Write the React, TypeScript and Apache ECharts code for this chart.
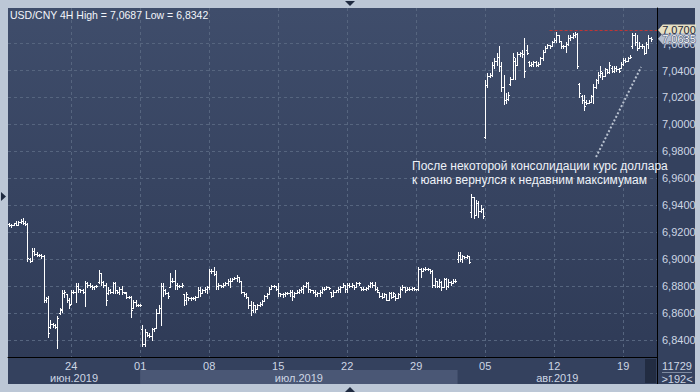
import React, { useEffect, useRef } from 'react';
import * as echarts from 'echarts';

// OHLC bars [open, high, low, close], 4H
const junBars: number[][] = [
  [6.926, 6.9265, 6.9245, 6.925], [6.925, 6.926, 6.924, 6.9255], [6.9255, 6.927, 6.925, 6.9265], [6.9265, 6.928, 6.925, 6.9255],
  [6.9255, 6.928, 6.925, 6.9275], [6.9275, 6.930, 6.9265, 6.928], [6.928, 6.9305, 6.926, 6.927], [6.927, 6.928, 6.925, 6.926],
  [6.926, 6.9265, 6.899, 6.901], [6.900, 6.901, 6.898, 6.899], [6.899, 6.908, 6.899, 6.906], [6.906, 6.908, 6.903, 6.904],
  [6.904, 6.905, 6.902, 6.903], [6.903, 6.904, 6.902, 6.903], [6.903, 6.9035, 6.901, 6.902], [6.902, 6.903, 6.868, 6.870],
  [6.870, 6.872, 6.868, 6.871], [6.871, 6.873, 6.842, 6.845], [6.850, 6.855, 6.849, 6.852], [6.852, 6.853, 6.850, 6.851],
  [6.851, 6.852, 6.849, 6.850], [6.850, 6.858, 6.8342, 6.856], [6.860, 6.864, 6.859, 6.863], [6.862, 6.877, 6.861, 6.875],
  [6.875, 6.877, 6.872, 6.876], [6.874, 6.874, 6.868, 6.870], [6.870, 6.871, 6.864, 6.866], [6.867, 6.877, 6.867, 6.876],
  [6.876, 6.877, 6.875, 6.876], [6.876, 6.8825, 6.868, 6.880], [6.880, 6.882, 6.876, 6.878], [6.878, 6.878, 6.876, 6.877],
  [6.877, 6.8775, 6.875, 6.876], [6.876, 6.884, 6.865, 6.882], [6.882, 6.883, 6.879, 6.881], [6.881, 6.882, 6.879, 6.880],
  [6.880, 6.881, 6.878, 6.879], [6.879, 6.880, 6.878, 6.880], [6.880, 6.881, 6.879, 6.880], [6.883, 6.892, 6.882, 6.890],
  [6.890, 6.890, 6.881, 6.883], [6.883, 6.884, 6.879, 6.881], [6.881, 6.882, 6.866, 6.870], [6.875, 6.879, 6.874, 6.877],
  [6.877, 6.878, 6.875, 6.876], [6.876, 6.883, 6.875, 6.882], [6.882, 6.883, 6.875, 6.877], [6.877, 6.877, 6.875, 6.876],
  [6.876, 6.879, 6.874, 6.878], [6.878, 6.880, 6.874, 6.876], [6.876, 6.876, 6.875, 6.8755], [6.875, 6.876, 6.871, 6.872],
  [6.872, 6.873, 6.871, 6.872], [6.872, 6.873, 6.857, 6.862], [6.864, 6.870, 6.864, 6.868], [6.868, 6.870, 6.865, 6.866],
  [6.866, 6.8665, 6.865, 6.866],
];

const julBars: number[][] = [
  [6.866, 6.8665, 6.8655, 6.866], [6.848, 6.851, 6.8356, 6.837], [6.837, 6.848, 6.8356, 6.846], [6.846, 6.846, 6.843, 6.844],
  [6.844, 6.845, 6.842, 6.843], [6.843, 6.849, 6.840, 6.848], [6.848, 6.849, 6.847, 6.849], [6.849, 6.863, 6.849, 6.860],
  [6.860, 6.866, 6.860, 6.864], [6.864, 6.882, 6.851, 6.880], [6.880, 6.882, 6.873, 6.877], [6.877, 6.878, 6.874, 6.875],
  [6.875, 6.876, 6.871, 6.873], [6.879, 6.890, 6.879, 6.884], [6.884, 6.886, 6.883, 6.884], [6.884, 6.892, 6.878, 6.881],
  [6.881, 6.882, 6.878, 6.880], [6.880, 6.881, 6.879, 6.880], [6.880, 6.882, 6.879, 6.881], [6.874, 6.874, 6.866, 6.870],
  [6.870, 6.876, 6.867, 6.874], [6.872, 6.872, 6.870, 6.871], [6.871, 6.872, 6.870, 6.871], [6.871, 6.872, 6.8705, 6.8715],
  [6.8715, 6.873, 6.870, 6.872], [6.872, 6.879, 6.872, 6.877], [6.877, 6.879, 6.873, 6.875], [6.875, 6.878, 6.875, 6.877],
  [6.877, 6.879, 6.876, 6.878], [6.878, 6.880, 6.875, 6.879], [6.879, 6.8925, 6.878, 6.891], [6.891, 6.8925, 6.890, 6.891],
  [6.891, 6.894, 6.888, 6.889], [6.889, 6.8915, 6.878, 6.880], [6.880, 6.8825, 6.878, 6.881], [6.881, 6.881, 6.879, 6.880],
  [6.880, 6.882, 6.879, 6.881], [6.881, 6.883, 6.881, 6.882], [6.882, 6.885, 6.881, 6.884], [6.884, 6.886, 6.879, 6.884],
  [6.884, 6.886, 6.884, 6.885], [6.885, 6.887, 6.885, 6.886], [6.886, 6.888, 6.884, 6.887], [6.887, 6.887, 6.883, 6.884],
  [6.884, 6.884, 6.875, 6.876], [6.876, 6.876, 6.873, 6.874], [6.874, 6.875, 6.871, 6.872], [6.872, 6.872, 6.864, 6.866],
  [6.866, 6.869, 6.8586, 6.862], [6.862, 6.868, 6.861, 6.866], [6.866, 6.866, 6.861, 6.863], [6.863, 6.867, 6.863, 6.866],
  [6.866, 6.868, 6.865, 6.867], [6.867, 6.8697, 6.866, 6.869], [6.869, 6.8735, 6.869, 6.873], [6.873, 6.875, 6.871, 6.874],
  [6.874, 6.879, 6.874, 6.878], [6.878, 6.881, 6.878, 6.880], [6.880, 6.881, 6.879, 6.880], [6.880, 6.880, 6.877, 6.878],
  [6.878, 6.882, 6.873, 6.875], [6.875, 6.875, 6.873, 6.874], [6.874, 6.875, 6.872, 6.874], [6.874, 6.876, 6.873, 6.875],
  [6.875, 6.876, 6.874, 6.875], [6.875, 6.877, 6.873, 6.876], [6.876, 6.877, 6.870, 6.873], [6.873, 6.876, 6.872, 6.875],
  [6.875, 6.877, 6.875, 6.876], [6.876, 6.878, 6.875, 6.877], [6.877, 6.879, 6.876, 6.878], [6.878, 6.881, 6.875, 6.880],
  [6.880, 6.883, 6.879, 6.882], [6.882, 6.883, 6.876, 6.878], [6.878, 6.878, 6.876, 6.877], [6.877, 6.877, 6.875, 6.876],
  [6.876, 6.877, 6.873, 6.874], [6.874, 6.876, 6.873, 6.875], [6.875, 6.877, 6.873, 6.876], [6.876, 6.879, 6.875, 6.878],
  [6.878, 6.879, 6.877, 6.878], [6.878, 6.880, 6.878, 6.879], [6.879, 6.879, 6.878, 6.8785], [6.876, 6.876, 6.872, 6.873],
  [6.873, 6.877, 6.873, 6.876], [6.876, 6.877, 6.876, 6.877], [6.877, 6.879, 6.876, 6.878], [6.878, 6.880, 6.876, 6.879],
  [6.879, 6.882, 6.879, 6.881], [6.881, 6.881, 6.876, 6.878], [6.878, 6.882, 6.876, 6.881], [6.881, 6.882, 6.879, 6.880],
  [6.880, 6.882, 6.879, 6.881], [6.881, 6.881, 6.878, 6.879], [6.879, 6.883, 6.879, 6.882], [6.882, 6.883, 6.881, 6.882],
  [6.879, 6.879, 6.877, 6.878], [6.878, 6.879, 6.877, 6.878], [6.878, 6.879, 6.877, 6.8785], [6.8785, 6.881, 6.878, 6.880],
  [6.880, 6.883, 6.879, 6.882], [6.882, 6.883, 6.879, 6.881], [6.881, 6.883, 6.877, 6.878], [6.878, 6.879, 6.876, 6.877],
  [6.876, 6.876, 6.872, 6.873], [6.873, 6.875, 6.871, 6.872], [6.872, 6.875, 6.872, 6.874], [6.874, 6.874, 6.8697, 6.870],
  [6.870, 6.876, 6.870, 6.875], [6.875, 6.876, 6.871, 6.872], [6.872, 6.876, 6.872, 6.875], [6.873, 6.874, 6.8697, 6.871],
  [6.871, 6.875, 6.871, 6.874], [6.874, 6.879, 6.872, 6.878], [6.878, 6.881, 6.877, 6.879], [6.879, 6.879, 6.876, 6.877],
  [6.877, 6.879, 6.877, 6.878], [6.878, 6.879, 6.877, 6.878], [6.878, 6.879, 6.877, 6.8785], [6.8785, 6.879, 6.877, 6.878],
  [6.878, 6.878, 6.877, 6.8775], [6.878, 6.8942, 6.877, 6.893], [6.893, 6.8935, 6.887, 6.891], [6.891, 6.8935, 6.891, 6.893],
  [6.893, 6.894, 6.892, 6.893], [6.893, 6.8935, 6.892, 6.8925], [6.8925, 6.893, 6.890, 6.891], [6.891, 6.892, 6.879, 6.881],
  [6.881, 6.886, 6.879, 6.884], [6.884, 6.884, 6.879, 6.880], [6.880, 6.885, 6.879, 6.883], [6.883, 6.884, 6.877, 6.879],
  [6.879, 6.886, 6.879, 6.885], [6.885, 6.886, 6.878, 6.880], [6.880, 6.885, 6.879, 6.883], [6.883, 6.884, 6.881, 6.882],
  [6.882, 6.885, 6.882, 6.884], [6.884, 6.885, 6.883, 6.884],
];

const augBars: number[][] = [
  [6.900, 6.905, 6.898, 6.903], [6.903, 6.905, 6.899, 6.900], [6.900, 6.903, 6.898, 6.902], [6.902, 6.902, 6.901, 6.9015],
  [6.9015, 6.903, 6.901, 6.902], [6.902, 6.902, 6.897, 6.898], [6.935, 6.9484, 6.931, 6.946], [6.946, 6.946, 6.9306, 6.933],
  [6.933, 6.944, 6.933, 6.942], [6.942, 6.943, 6.931, 6.936], [6.936, 6.940, 6.935, 6.937], [6.937, 6.938, 6.9306, 6.932],
  [6.991, 7.033, 6.990, 7.029], [7.029, 7.038, 7.028, 7.036], [7.036, 7.038, 7.035, 7.037], [7.037, 7.046, 7.036, 7.044],
  [7.044, 7.049, 7.042, 7.047], [7.047, 7.053, 7.044, 7.050], [7.050, 7.058, 7.040, 7.043], [7.043, 7.046, 7.025, 7.028],
  [7.028, 7.037, 7.015, 7.018], [7.018, 7.023, 7.016, 7.019], [7.019, 7.024, 7.018, 7.022], [7.030, 7.035, 7.029, 7.034],
  [7.034, 7.053, 7.034, 7.050], [7.047, 7.049, 7.034, 7.044], [7.044, 7.054, 7.044, 7.052], [7.052, 7.054, 7.051, 7.053],
  [7.053, 7.055, 7.050, 7.052], [7.052, 7.064, 7.035, 7.040], [7.055, 7.059, 7.052, 7.053], [7.046, 7.047, 7.043, 7.044],
  [7.044, 7.046, 7.043, 7.045], [7.045, 7.047, 7.043, 7.046], [7.046, 7.047, 7.043, 7.044], [7.044, 7.046, 7.043, 7.045],
  [7.045, 7.050, 7.045, 7.049], [7.049, 7.055, 7.048, 7.054], [7.054, 7.058, 7.054, 7.057], [7.057, 7.060, 7.057, 7.059],
  [7.059, 7.059, 7.057, 7.058], [7.058, 7.062, 7.058, 7.061], [7.061, 7.064, 7.061, 7.063], [7.063, 7.0687, 7.061, 7.066],
  [7.066, 7.066, 7.061, 7.062], [7.062, 7.062, 7.057, 7.058], [7.058, 7.059, 7.057, 7.0585], [7.0585, 7.061, 7.054, 7.060],
  [7.060, 7.066, 7.059, 7.064], [7.064, 7.066, 7.063, 7.065], [7.065, 7.068, 7.064, 7.066], [7.066, 7.0685, 7.065, 7.067],
  [7.067, 7.068, 7.042, 7.043], [7.030, 7.031, 7.020, 7.023], [7.021, 7.022, 7.016, 7.018], [7.018, 7.022, 7.011, 7.014],
  [7.017, 7.018, 7.015, 7.016], [7.016, 7.018, 7.016, 7.017], [7.017, 7.022, 7.017, 7.021], [7.021, 7.030, 7.016, 7.028],
  [7.028, 7.034, 7.027, 7.033], [7.033, 7.039, 7.031, 7.037], [7.037, 7.043, 7.035, 7.040], [7.038, 7.039, 7.034, 7.036],
  [7.036, 7.042, 7.036, 7.041], [7.041, 7.041, 7.038, 7.039], [7.039, 7.046, 7.038, 7.044], [7.042, 7.043, 7.039, 7.040],
  [7.040, 7.043, 7.039, 7.042], [7.042, 7.043, 7.040, 7.041], [7.041, 7.042, 7.039, 7.040], [7.042, 7.046, 7.042, 7.045],
  [7.045, 7.049, 7.044, 7.048], [7.048, 7.049, 7.046, 7.047], [7.047, 7.050, 7.047, 7.049], [7.049, 7.0515, 7.049, 7.050],
  [7.058, 7.068, 7.057, 7.066], [7.066, 7.068, 7.059, 7.061], [7.061, 7.066, 7.055, 7.057], [7.057, 7.061, 7.057, 7.058],
  [7.058, 7.060, 7.057, 7.058], [7.058, 7.058, 7.052, 7.053], [7.053, 7.061, 7.053, 7.060], [7.060, 7.066, 7.057, 7.064],
  [7.064, 7.065, 7.062, 7.0635],
];

// axis labels
const dayTickIdx = [27, 57, 87, 117, 147, 177, 207, 237, 267];
const dayTickLabels = ['24', '01', '08', '15', '22', '29', '05', '12', '19'];
const monthLabels = ['июн.2019', 'июл.2019', 'авг.2019'];
const monthStartIdx = [57, 195]; // first bar of July, first bar of August
const priceTicks = [6.84, 6.86, 6.88, 6.9, 6.92, 6.94, 6.96, 6.98, 7.0, 7.02, 7.04, 7.06];

// annotations
const resistanceLevel = 7.07;
const resistanceFromIdx = 235;
const trendStart = [255.2, 6.9758];
const trendEnd = [274.8, 7.0426];
const noteLines = ['После некоторой консолидации курс доллара', 'к юаню вернулся к недавним максимумам'];
const instrument = 'USD/CNY';
const period = '4H';
const barsTotalLabel = '11729';
const visibleBarsLabel = '>192<';

// visible window
const X_MIN = -0.45;
const X_MAX = 281.7;
const Y_MIN = 6.8274;
const Y_MAX = 7.0864;

const FONT = '"Liberation Sans", Arial, sans-serif';
const fmt = (v: number) => v.toFixed(4).replace('.', ',');

export default function App() {
  const ref = useRef<HTMLDivElement>(null);
  useEffect(() => {
    document.body.style.margin = '0';
    if (!ref.current) return;
    const chart = echarts.init(ref.current, undefined, { renderer: 'svg' });

    const bars = [...junBars, ...julBars, ...augBars];
    const data = bars.map((b, i) => [i, b[0], b[1], b[2], b[3]]);
    const hi = Math.max(...bars.map((b) => b[1]));
    const lo = Math.min(...bars.map((b) => b[2]));
    const last = bars[bars.length - 1][3];

    const bounds = [X_MIN, ...monthStartIdx, X_MAX];
    const monthCenters = monthLabels.map((_, k) => (bounds[k] + bounds[k + 1]) / 2);
    const nearest = (arr: number[], v: number) => {
      let best = 0;
      arr.forEach((a, k) => { if (Math.abs(a - v) < Math.abs(arr[best] - v)) best = k; });
      return best;
    };

    const renderItem = (params: any, api: any) => {
      const i = api.value(0);
      const pO = api.coord([i, api.value(1)]);
      const pH = api.coord([i, api.value(2)]);
      const pL = api.coord([i, api.value(3)]);
      const pC = api.coord([i, api.value(4)]);
      const xi = Math.round(pH[0]);
      const x = xi + 0.5;
      const yH = Math.round(pH[1]);
      const yL = Math.max(Math.round(pL[1]) + 1, yH + 1);
      const yO = Math.round(pO[1]) + 0.5;
      const yC = Math.round(pC[1]) + 0.5;
      const st = { stroke: '#ffffff', lineWidth: 1 };
      return {
        type: 'group',
        children: [
          { type: 'line', shape: { x1: x, y1: yH, x2: x, y2: yL }, style: st },
          { type: 'line', shape: { x1: xi - 1, y1: yO, x2: xi + 1, y2: yO }, style: st },
          { type: 'line', shape: { x1: xi, y1: yC, x2: xi + 2, y2: yC }, style: st },
        ],
      };
    };

    const labelColor = '#cdd6e4';
    const gridLine = { show: true, lineStyle: { color: '#56657f', type: [3, 3] as any, width: 1 } };

    chart.setOption({
      animation: false,
      backgroundColor: '#bcc7d6',
      textStyle: { fontFamily: FONT },
      grid: [
        {
          left: 8, top: 8, width: 649, height: 349, show: true, borderWidth: 0,
          backgroundColor: new echarts.graphic.LinearGradient(0, 0, 0, 1, [
            { offset: 0, color: '#3f4d6b' },
            { offset: 1, color: '#2f3b57' },
          ]),
        },
        { left: 8, top: 357, width: 649, height: 27, show: false },
      ],
      xAxis: [
        {
          type: 'value', gridIndex: 0, min: X_MIN, max: X_MAX, position: 'bottom',
          axisLine: { show: true, onZero: false, lineStyle: { color: '#000000', width: 1 } },
          axisTick: { show: false, customValues: dayTickIdx },
          axisLabel: {
            customValues: dayTickIdx, color: labelColor, fontSize: 11, lineHeight: 11, margin: 3, fontFamily: FONT,
            formatter: (v: number) => dayTickLabels[nearest(dayTickIdx, v)],
          },
          splitLine: gridLine,
        },
        {
          type: 'value', gridIndex: 1, min: X_MIN, max: X_MAX, position: 'bottom', z: 20,
          axisLine: { show: false }, axisTick: { show: false, customValues: monthCenters },
          axisLabel: {
            customValues: monthCenters, inside: true, margin: 1, color: labelColor, fontSize: 11, lineHeight: 11, fontFamily: FONT,
            formatter: (v: number) => monthLabels[nearest(monthCenters, v)],
          },
          splitLine: { show: false },
        },
      ],
      yAxis: [
        {
          type: 'value', gridIndex: 0, position: 'right', min: Y_MIN, max: Y_MAX,
          axisLine: { show: true, onZero: false, lineStyle: { color: '#000000', width: 1 } },
          axisTick: { show: false, customValues: priceTicks },
          axisLabel: { customValues: priceTicks, formatter: fmt, color: labelColor, fontSize: 11, margin: 5, fontFamily: FONT },
          splitLine: gridLine,
        },
        { type: 'value', gridIndex: 1, min: 0, max: 1, show: false },
      ],
      series: [
        {
          type: 'custom', xAxisIndex: 0, yAxisIndex: 0, data, clip: true, z: 3,
          encode: { x: 0, y: [1, 2, 3, 4] },
          renderItem,
          markLine: {
            silent: true, symbol: ['none', 'none'], label: { show: false },
            data: [
              [
                { coord: [resistanceFromIdx, resistanceLevel], lineStyle: { color: '#c03434', type: [3, 2], width: 1 } },
                { coord: [X_MAX, resistanceLevel] },
              ],
              [
                { coord: trendStart, lineStyle: { color: '#b9c2d0', type: [2, 2], width: 2 } },
                { coord: trendEnd },
              ],
            ],
          },
          markPoint: {
            silent: true,
            symbol: 'path://M0,5 L5,0 L40,0 L40,10 L5,10 Z',
            symbolSize: [38, 11],
            symbolOffset: [20, 0],
            label: { show: true, fontSize: 11, fontFamily: FONT, position: 'inside', offset: [2, 0] },
            data: [
              {
                coord: [X_MAX, resistanceLevel], value: fmt(resistanceLevel),
                itemStyle: { color: '#e6dfc2' }, label: { color: '#1e2636', formatter: fmt(resistanceLevel) },
              },
              {
                coord: [X_MAX, last], value: fmt(last),
                itemStyle: { color: '#b4becf' }, label: { color: '#ffffff', formatter: fmt(last), textBorderColor: '#3a4868', textBorderWidth: 1 },
              },
            ],
          },
        },
        {
          type: 'line', xAxisIndex: 1, yAxisIndex: 1, data: [], silent: true, z: 1,
          markArea: {
            silent: true, itemStyle: { color: '#4a5775' },
            data: [[{ xAxis: monthStartIdx[0], yAxis: 0 }, { xAxis: monthStartIdx[1], yAxis: 0.52 }]],
          },
        },
      ],
      graphic: [
        { type: 'rect', z: -100, shape: { x: 8, y: 8, width: 687, height: 376 }, style: { fill: '#34415e' } },
        { type: 'rect', z: 10, shape: { x: 645, y: 359, width: 11, height: 24 }, style: { fill: '#222c42' } },
        { type: 'line', z: 10, shape: { x1: 657.5, y1: 357, x2: 657.5, y2: 384 }, style: { stroke: '#000000', lineWidth: 1 } },
        { type: 'line', z: 10, shape: { x1: 662, y1: 372.5, x2: 692, y2: 372.5 }, style: { stroke: '#7e8aa0', lineWidth: 1 } },
        { type: 'text', z: 10, x: 677, y: 366, style: { text: barsTotalLabel, fill: labelColor, font: `11px ${FONT}`, align: 'center', verticalAlign: 'middle' } },
        { type: 'text', z: 10, x: 677, y: 379, style: { text: visibleBarsLabel, fill: labelColor, font: `11px ${FONT}`, align: 'center', verticalAlign: 'middle' } },
        {
          type: 'text', z: 10, x: 10, y: 9,
          style: { text: `${instrument} ${period} High = ${fmt(hi)} Low = ${fmt(lo)}`, fill: '#f2f5fa', font: `10.5px ${FONT}` },
        },
        { type: 'text', z: 10, x: 412, y: 160, style: { text: noteLines[0], fill: '#eef2f8', font: `12px ${FONT}` } },
        { type: 'text', z: 10, x: 412, y: 174, style: { text: noteLines[1], fill: '#eef2f8', font: `12px ${FONT}` } },
        { type: 'polygon', z: 10, shape: { points: [[345, 1], [355, 1], [350, 6]] }, style: { fill: '#1f2a40' } },
        { type: 'polygon', z: 10, shape: { points: [[345, 392], [355, 392], [350, 387]] }, style: { fill: '#1f2a40' } },
        { type: 'polygon', z: 10, shape: { points: [[1, 192], [1, 201], [6, 196.5]] }, style: { fill: '#1f2a40' } },
      ],
    });

    return () => chart.dispose();
  }, []);
  return <div ref={ref} style={{ width: 700, height: 392 }} />;
}
